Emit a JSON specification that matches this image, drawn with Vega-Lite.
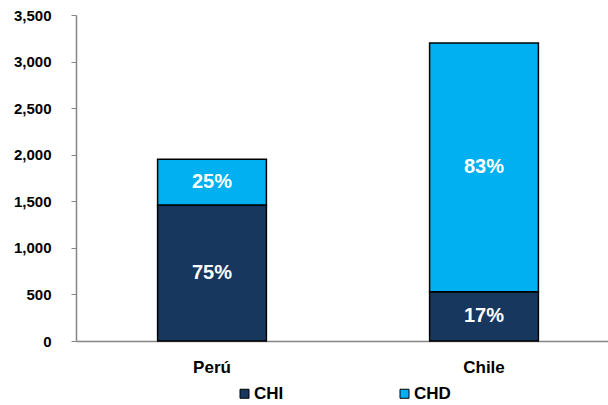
{
  "$schema": "https://vega.github.io/schema/vega-lite/v6.json",
  "width": 544,
  "height": 326,
  "autosize": "none",
  "padding": {"left": 76, "top": 15, "right": 0, "bottom": 64},
  "background": "white",
  "config": {"view": {"stroke": null}, "font": "Liberation Sans"},
  "data": {"values": [
    {"pais": "Perú", "serie": "CHI", "valor": 1460, "pct": "75%"},
    {"pais": "Perú", "serie": "CHD", "valor": 490, "pct": "25%"},
    {"pais": "Chile", "serie": "CHI", "valor": 530, "pct": "17%"},
    {"pais": "Chile", "serie": "CHD", "valor": 2670, "pct": "83%"}
  ]},
  "transform": [
    {"stack": "valor", "groupby": ["pais"], "sort": [{"field": "serie", "order": "descending"}], "as": ["y0", "y1"]},
    {"calculate": "(datum.y0 + datum.y1) / 2", "as": "ymid"}
  ],
  "encoding": {
    "x": {
      "field": "pais", "type": "nominal", "sort": ["Perú", "Chile"],
      "scale": {"paddingInner": 0.6, "paddingOuter": 0.3},
      "axis": {"title": null, "labelAngle": 0, "ticks": false, "labelPadding": 18, "domainColor": "#868686", "domainWidth": 1.5,
               "labelFont": "Liberation Sans", "labelFontWeight": "bold", "labelFontSize": 17, "labelColor": "black"}
    }
  },
  "layer": [
    {
      "mark": {"type": "bar", "stroke": "black", "strokeWidth": 1.5},
      "encoding": {
        "y": {"field": "y0", "type": "quantitative", "scale": {"domain": [0, 3500]},
              "axis": {"title": null, "values": [0, 500, 1000, 1500, 2000, 2500, 3000, 3500], "format": ",.0f", "grid": false,
                       "domainColor": "#868686", "domainWidth": 1.5, "tickColor": "#868686", "tickSize": 5, "labelPadding": 20,
                       "labelFont": "Liberation Sans", "labelFontWeight": "bold", "labelFontSize": 15, "labelColor": "black"}},
        "y2": {"field": "y1"},
        "color": {"field": "serie", "type": "nominal",
                  "scale": {"domain": ["CHI", "CHD"], "range": ["#17375E", "#00B0F0"]},
                  "legend": {"title": null, "orient": "none", "legendX": 160, "legendY": 370, "direction": "horizontal",
                             "symbolType": "square", "symbolSize": 81, "symbolStrokeColor": "black", "symbolStrokeWidth": 1,
                             "columnPadding": 112, "labelOffset": 1,
                             "labelFont": "Liberation Sans", "labelFontWeight": "bold", "labelFontSize": 17, "labelColor": "black"}}
      }
    },
    {
      "mark": {"type": "text", "color": "white", "fontWeight": "bold", "fontSize": 20, "font": "Liberation Sans", "baseline": "middle"},
      "encoding": {
        "y": {"field": "ymid", "type": "quantitative"},
        "text": {"field": "pct"}
      }
    }
  ]
}
